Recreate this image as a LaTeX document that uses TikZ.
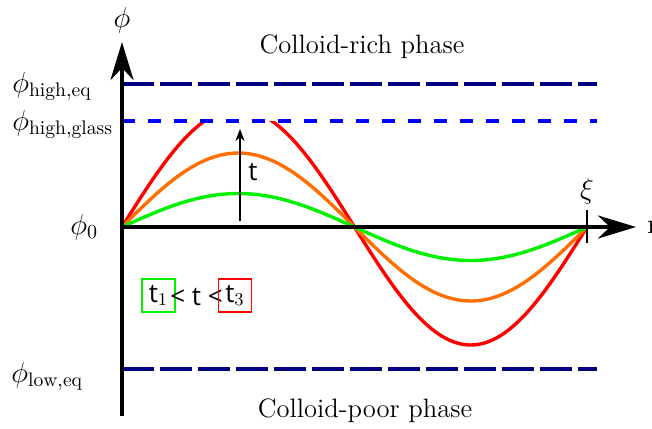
\documentclass[tikz,border=0pt]{standalone}
\usepackage{fontspec}
\newfontfamily\lblsans{Open Sans}
\usetikzlibrary{arrows.meta}
\definecolor{navyline}{RGB}{0,0,128}
\definecolor{blueline}{RGB}{0,0,255}
\definecolor{greencurve}{RGB}{0,240,0}
\definecolor{orangecurve}{RGB}{255,110,0}
\definecolor{redcurve}{RGB}{255,0,0}
\tikzset{
  axis/.style={line width=2pt, -{Stealth[length=19pt,width=11.5pt,inset=6pt]}},
  eqline/.style={navyline, line width=2pt, dash pattern=on 16pt off 3pt},
  glassline/.style={blueline, line width=2pt, dash pattern=on 6.5pt off 6.5pt},
  curve/.style={line width=1.7pt},
  lbl/.style={font=\fontsize{14}{17}\selectfont, inner sep=0pt},
  phase/.style={font=\fontsize{13.3}{16}\selectfont, inner sep=0pt},
  sanslbl/.style={font=\lblsans\fontsize{13}{15}\selectfont, inner sep=0pt},
  legbox/.style={line width=0.85pt, minimum width=16.5pt, minimum height=16.5pt, inner sep=0pt, font=\lblsans\fontsize{13}{15}\selectfont}
}
\begin{document}
\begin{tikzpicture}[x=0.5pt,y=-0.5pt]
\useasboundingbox (0,0) rectangle (652,428);
% curves
\begin{scope}
\clip (110,121) rectangle (640,420);
\draw[curve, redcurve] plot[domain=122:587, samples=120, smooth] (\x, {227-118*sin(0.7741935*(\x-122))});
\end{scope}
\draw[curve, orangecurve] plot[domain=122:587, samples=120, smooth] (\x, {227-74*sin(0.7741935*(\x-122))});
\draw[curve, greencurve] plot[domain=122:587, samples=120, smooth] (\x, {227-33.5*sin(0.7741935*(\x-122))});
% level lines
\coordinate (eqA) at (122,84);
\coordinate (eqB) at (597,84);
\coordinate (glA) at (122,121);
\coordinate (glB) at (597,121);
\coordinate (lowA) at (122,369);
\coordinate (lowB) at (597,369);
\draw[eqline] (eqA) -- (eqB);
\draw[glassline] (glA) -- (glB);
\draw[eqline] (lowA) -- (lowB);
% axes
\coordinate (O) at (122,227);
\coordinate (ybot) at (122,416);
\coordinate (ytop) at (122,42);
\coordinate (xend) at (636,227);
\draw[axis] (ybot) -- (ytop);
\draw[axis] (O) -- (xend);
\coordinate (tickA) at (587,210);
\coordinate (tickB) at (587,243);
\draw[line width=1pt] (tickA) -- (tickB);
\node[lbl] (xi) at (587,191) {$\xi$};
\node[lbl] (phi) at (122,20) {$\phi$};
\node[lbl, anchor=west] (r) at (647,227) {r};
% time arrow
\coordinate (tA) at (240,221);
\coordinate (tB) at (240,129);
\draw[line width=1pt, -{Stealth[length=6pt,width=4.5pt]}] (tA) -- (tB);
\node[sanslbl] (tl) at (253,172) {t};
% labels
\node[lbl, anchor=base west] (lhe) at (12,92) {$\phi_{\mathrm{high,eq}}$};
\node[lbl, anchor=base west] (lhg) at (12,130) {$\phi_{\mathrm{high,glass}}$};
\node[lbl, anchor=base west] (l0) at (70,234) {$\phi_{0}$};
\node[lbl, anchor=base west] (lle) at (11,382) {$\phi_{\mathrm{low,eq}}$};
\node[phase] (rich) at (362,47) {Colloid-rich phase};
\node[phase] (poor) at (365,411) {Colloid-poor phase};
% legend
\node[legbox, draw=greencurve] (t1) at (158.5,295.5) {t$_1$};
\node[sanslbl] (mid) at (196.5,297) {< t <};
\node[legbox, draw=redcurve] (t3) at (235,295.5) {t$_3$};
\end{tikzpicture}
\end{document}
